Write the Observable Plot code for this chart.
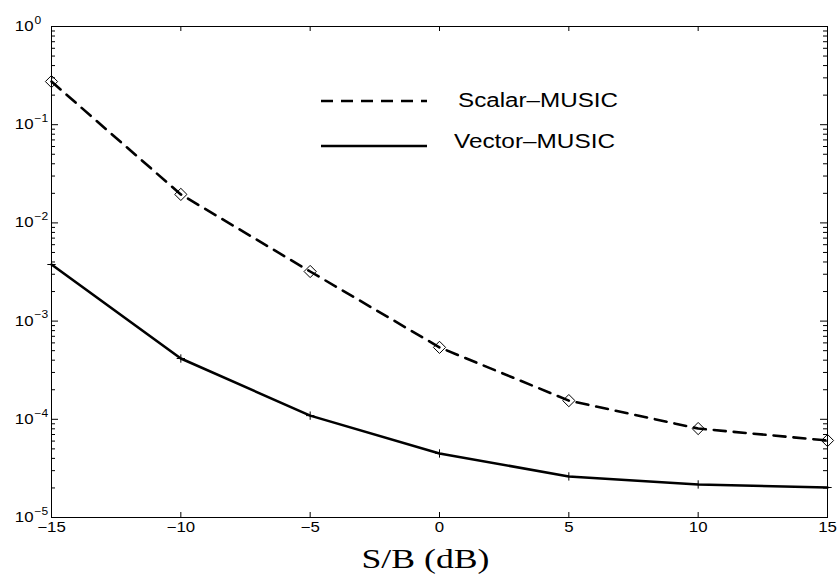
<!DOCTYPE html>
<html><head><meta charset="utf-8">
<script src="https://cdn.jsdelivr.net/npm/d3@7"></script>
<script src="https://cdn.jsdelivr.net/npm/@observablehq/plot@0.6"></script>
<style>
body{margin:0;background:#fff}
#wrap{position:relative;width:837px;height:585px}
#legend{position:absolute;left:0;top:0;pointer-events:none}
</style>
</head><body><div id="wrap"></div>
<script>
// ---- data ----
const snr = [-15, -10, -5, 0, 5, 10, 15];
const scalarMusic = [0.275, 0.0195, 0.0032, 0.00054, 0.000155, 0.0000805, 0.0000608];
const vectorMusic = [0.00377, 0.000416, 0.000109, 0.0000449, 0.0000262, 0.0000217, 0.0000202];
const xTicks = [-15, -10, -5, 0, 5, 10, 15];
const yMajorExp = [0, -1, -2, -3, -4, -5];
const seriesNames = ["Scalar\u2013MUSIC", "Vector\u2013MUSIC"];
const xLabel = "S/B (dB)";

// ---- layout ----
const W = 837, H = 585, mL = 51, mR = 10, mT = 26, mB = 68;
const fw = W - mL - mR, fh = H - mT - mB;
const yMajor = yMajorExp.map(e => 10 ** e);
const yMinor = [];
for (const e of [-5, -4, -3, -2, -1]) for (let k = 2; k <= 9; k++) yMinor.push(k * 10 ** e);

const scalarData = snr.map((x, i) => ({x, y: scalarMusic[i]}));
const vectorData = snr.map((x, i) => ({x, y: vectorMusic[i]}));
const fmtX = d => d < 0 ? "\u2212" + Math.abs(d) : String(d);
const fmtE = e => e < 0 ? "\u2212" + Math.abs(e) : String(e);
const sans = "'Liberation Sans', Arial, Helvetica, sans-serif";

const chart = Plot.plot({
  width: W, height: H,
  marginLeft: mL, marginRight: mR, marginTop: mT, marginBottom: mB,
  style: {fontFamily: sans, background: "white", color: "black"},
  x: {domain: [-15, 15], axis: null},
  y: {type: "log", domain: [1e-5, 1], axis: null},
  marks: [
    // x ticks (inward, bottom and top)
    Plot.ruleX(xTicks, {stroke: "black", insetTop: fh - 5}),
    Plot.ruleX(xTicks, {stroke: "black", insetBottom: fh - 5}),
    // y major ticks (inward, left and right)
    Plot.ruleY(yMajor, {stroke: "black", insetRight: fw - 7}),
    Plot.ruleY(yMajor, {stroke: "black", insetLeft: fw - 7}),
    // y minor ticks
    Plot.ruleY(yMinor, {stroke: "black", insetRight: fw - 4}),
    Plot.ruleY(yMinor, {stroke: "black", insetLeft: fw - 4}),
    Plot.frame({stroke: "black", strokeWidth: 1}),
    // series
    Plot.line(scalarData, {x: "x", y: "y", stroke: "black", strokeWidth: 2.6, strokeDasharray: "12,8"}),
    Plot.line(vectorData, {x: "x", y: "y", stroke: "black", strokeWidth: 2.6}),
    Plot.dot(scalarData, {x: "x", y: "y", symbol: "diamond2", r: 5.5, stroke: "black", strokeWidth: 1, fill: "none"}),
    Plot.dot(vectorData, {x: "x", y: "y", symbol: "plus", r: 2.8, stroke: "black", strokeWidth: 1}),
    // x tick labels
    Plot.text(xTicks, {x: d => d, frameAnchor: "bottom", dy: 14, text: fmtX, fontSize: 14, fill: "black"}),
    // y tick labels: base and exponent
    Plot.text(yMajorExp, {y: e => 10 ** e, frameAnchor: "left", dx: -18, text: () => "10", textAnchor: "end", fontSize: 14, fill: "black"}),
    Plot.text(yMajorExp, {y: e => 10 ** e, frameAnchor: "left", dx: -17, dy: -6, text: fmtE, textAnchor: "start", fontSize: 10, fill: "black"}),
    // x axis label
    Plot.text([xLabel], {frameAnchor: "bottom", dx: -14, dy: 50, text: d => d, fontSize: 27,
      fontFamily: "'Liberation Serif', 'Times New Roman', serif", fill: "black"})
  ]
});

const wrap = document.getElementById("wrap");
wrap.appendChild(chart);

// Horizontal stretch of text to match the reference's wide rendering
d3.select(chart).selectAll("text").each(function() {
  const t = this;
  const len = t.getComputedTextLength();
  const isLabel = t.textContent === xLabel;
  t.setAttribute("textLength", isLabel ? 128 : len * 1.2);
  t.setAttribute("lengthAdjust", "spacingAndGlyphs");
});

// ---- legend overlay ----
const lg = d3.select(wrap).append("svg").attr("id", "legend").attr("width", W).attr("height", H);
const legendRows = [
  {name: seriesNames[0], dash: "12,8", ly: 101, ty: 100, tx: 458, tl: 160},
  {name: seriesNames[1], dash: null, ly: 146, ty: 141, tx: 454, tl: 161}
];
for (const r of legendRows) {
  lg.append("line").attr("x1", 321).attr("x2", 427).attr("y1", r.ly).attr("y2", r.ly)
    .attr("stroke", "black").attr("stroke-width", 2.6).attr("stroke-dasharray", r.dash);
  lg.append("text").attr("x", r.tx).attr("y", r.ty).attr("dy", "0.35em")
    .attr("font-family", sans).attr("font-size", 20).attr("fill", "black")
    .attr("textLength", r.tl).attr("lengthAdjust", "spacingAndGlyphs").text(r.name);
}
</script>
</body></html>
